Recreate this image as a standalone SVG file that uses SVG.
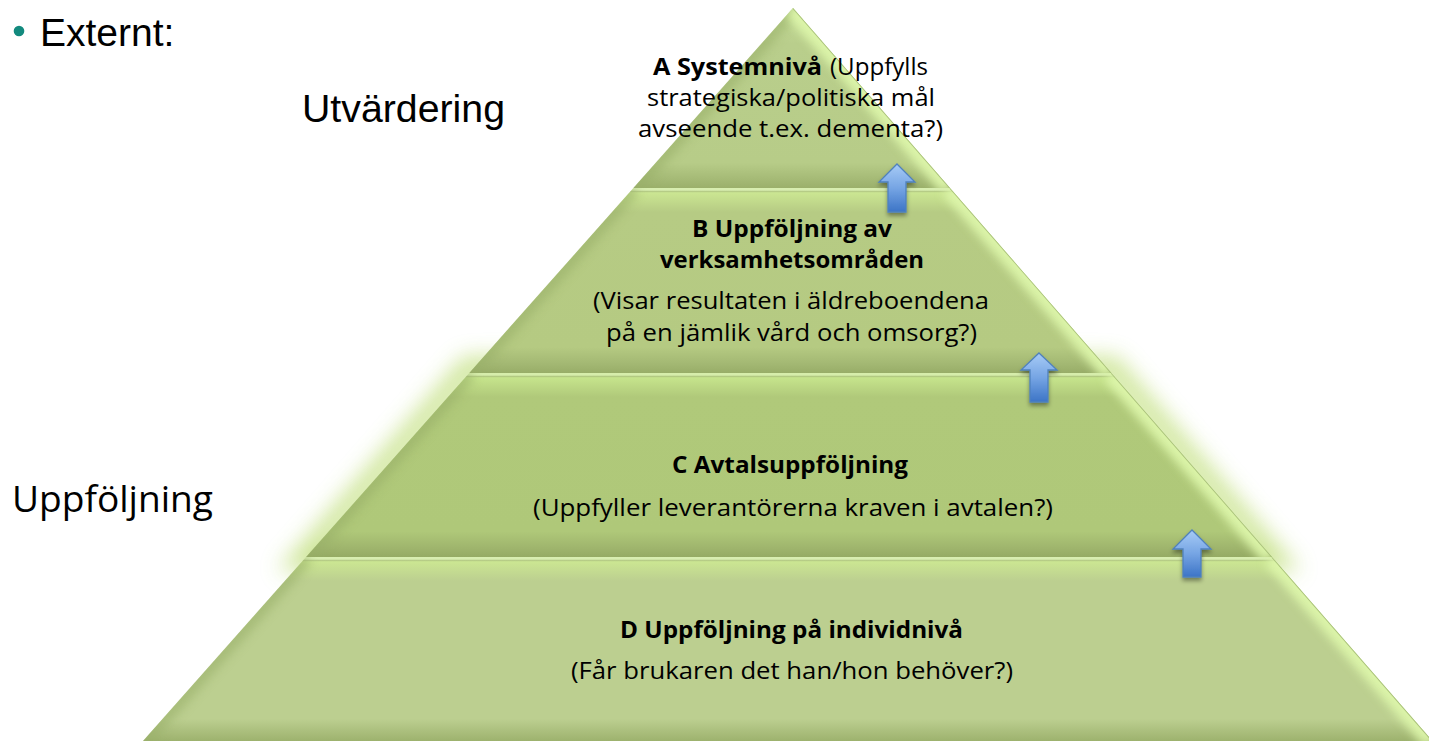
<svg xmlns="http://www.w3.org/2000/svg" width="1429" height="742" viewBox="0 0 1429 742">
<style>
.lbl{font-family:"Liberation Sans",Arial,sans-serif;fill:#000}
.t{font-family:"Open Sans","Liberation Sans",sans-serif;font-size:23px;fill:#000}
.b{font-weight:bold}
.edgeL{stroke:#97ae68;stroke-width:16;opacity:.55;fill:none}
.edgeR{stroke:#ddf6aa;stroke-width:20;opacity:.95;fill:none}
.rim{stroke:#a5bd78;stroke-width:1.5;fill:none}
.arrow{stroke:#4f81bd;stroke-width:1.3;fill:url(#gArrow);filter:url(#shadow)}
</style>
<defs>
<linearGradient id="gA" x1="0" y1="0" x2="0" y2="1">
<stop offset="0" stop-color="#c4dc98"/><stop offset="0.2" stop-color="#b9ce8c"/><stop offset="0.86" stop-color="#b7cc88"/><stop offset="0.95" stop-color="#a5ba76"/><stop offset="1" stop-color="#9bb06b"/>
</linearGradient>
<linearGradient id="gB" x1="0" y1="0" x2="0" y2="1">
<stop offset="0" stop-color="#d8eeb0"/><stop offset="0.012" stop-color="#d8eeb0"/><stop offset="0.018" stop-color="#b3c985"/><stop offset="0.026" stop-color="#cbe692"/><stop offset="0.13" stop-color="#b6cb84"/><stop offset="0.86" stop-color="#b5ca82"/><stop offset="0.95" stop-color="#a3b873"/><stop offset="1" stop-color="#98ad68"/>
</linearGradient>
<linearGradient id="gC" x1="0" y1="0" x2="0" y2="1">
<stop offset="0" stop-color="#d6edab"/><stop offset="0.012" stop-color="#d6edab"/><stop offset="0.018" stop-color="#afc680"/><stop offset="0.026" stop-color="#c6e48c"/><stop offset="0.13" stop-color="#b0c97a"/><stop offset="0.86" stop-color="#afc879"/><stop offset="0.95" stop-color="#9fb56d"/><stop offset="1" stop-color="#95ab64"/>
</linearGradient>
<linearGradient id="gD" x1="0" y1="0" x2="0" y2="1">
<stop offset="0" stop-color="#d8eeb0"/><stop offset="0.012" stop-color="#d8eeb0"/><stop offset="0.018" stop-color="#b3c985"/><stop offset="0.026" stop-color="#cbe692"/><stop offset="0.13" stop-color="#bccf90"/><stop offset="0.88" stop-color="#bccf90"/><stop offset="0.95" stop-color="#aabe7c"/><stop offset="1" stop-color="#9db26e"/>
</linearGradient>
<linearGradient id="gArrow" x1="0" y1="0" x2="0" y2="1">
<stop offset="0" stop-color="#a7cbf6"/><stop offset="0.5" stop-color="#76a5e4"/><stop offset="1" stop-color="#3c74c6"/>
</linearGradient>
<filter id="blur6" x="-20%" y="-20%" width="140%" height="140%"><feGaussianBlur stdDeviation="5"/></filter>
<filter id="glow" x="-30%" y="-30%" width="160%" height="160%"><feGaussianBlur stdDeviation="11"/></filter>
<filter id="shadow" x="-50%" y="-30%" width="200%" height="160%"><feDropShadow dx="0" dy="3" stdDeviation="2" flood-color="#000" flood-opacity="0.4"/></filter>
<clipPath id="cA"><polygon points="793,8 633.4,188 950,188"/></clipPath>
<clipPath id="cB"><polygon points="633.4,188 950,188 1111.4,373 469.3,373"/></clipPath>
<clipPath id="cC"><polygon points="469.3,373 1111.4,373 1272,557 306.1,557"/></clipPath>
<clipPath id="cD"><polygon points="306.1,557 1272,557 1432.5,741 143,741"/></clipPath>
</defs>
<rect width="1429" height="742" fill="#fff"/>

<g id="bullet-externt">
<circle cx="19" cy="31" r="5.3" fill="#138a7e"/>
<text class="lbl" x="40" y="46" font-size="39">Externt:</text>
</g>
<g id="label-utvardering">
<text class="lbl" x="302" y="122" font-size="38" textLength="203" lengthAdjust="spacingAndGlyphs">Utvärdering</text>
</g>
<g id="label-uppfoljning">
<text x="12" y="512" font-family="'Open Sans','Liberation Sans',sans-serif" font-size="37" textLength="201" lengthAdjust="spacingAndGlyphs">Uppföljning</text>
</g>

<g id="glow-c" filter="url(#glow)" opacity="0.9">
<polygon points="469.3,368 1111.4,368 1276,560 302,560" fill="none" stroke="#c7e28a" stroke-width="22"/>
</g>

<g id="layer-d">
<polygon points="306.1,557 1272,557 1432.5,741 143,741" fill="url(#gD)"/>
<g clip-path="url(#cD)">
<line class="edgeL" x1="306.1" y1="557" x2="143" y2="741" filter="url(#blur6)"/>
<line class="edgeR" x1="1272" y1="557" x2="1432.5" y2="741" filter="url(#blur6)"/>
<line class="rim" x1="1272" y1="557" x2="1432.5" y2="741"/>
</g>
<text class="t b" x="620" y="638" textLength="343" lengthAdjust="spacingAndGlyphs">D Uppföljning på individnivå</text>
<text class="t" x="571" y="679" textLength="442" lengthAdjust="spacingAndGlyphs">(Får brukaren det han/hon behöver?)</text>
</g>

<g id="layer-c">
<polygon points="469.3,373 1111.4,373 1272,557 306.1,557" fill="url(#gC)"/>
<g clip-path="url(#cC)">
<line class="edgeL" x1="469.3" y1="373" x2="306.1" y2="557" filter="url(#blur6)"/>
<line class="edgeR" x1="1111.4" y1="373" x2="1272" y2="557" filter="url(#blur6)"/>
<line class="rim" x1="1111.4" y1="373" x2="1272" y2="557"/>
</g>
<text class="t b" x="672" y="473" textLength="236" lengthAdjust="spacingAndGlyphs">C Avtalsuppföljning</text>
<text class="t" x="533" y="516" textLength="520" lengthAdjust="spacingAndGlyphs">(Uppfyller leverantörerna kraven i avtalen?)</text>
</g>

<g id="layer-b">
<polygon points="633.4,188 950,188 1111.4,373 469.3,373" fill="url(#gB)"/>
<g clip-path="url(#cB)">
<line class="edgeL" x1="633.4" y1="188" x2="469.3" y2="373" filter="url(#blur6)"/>
<line class="edgeR" x1="950" y1="188" x2="1111.4" y2="373" filter="url(#blur6)"/>
<line class="rim" x1="950" y1="188" x2="1111.4" y2="373"/>
</g>
<text class="t b" x="692" y="237" textLength="200" lengthAdjust="spacingAndGlyphs">B Uppföljning av</text>
<text class="t b" x="660" y="268" textLength="264" lengthAdjust="spacingAndGlyphs">verksamhetsområden</text>
<text class="t" x="593" y="309" textLength="396" lengthAdjust="spacingAndGlyphs">(Visar resultaten i äldreboendena</text>
<text class="t" x="606" y="341" textLength="371" lengthAdjust="spacingAndGlyphs">på en jämlik vård och omsorg?)</text>
</g>

<g id="layer-a">
<polygon points="793,8 633.4,188 950,188" fill="url(#gA)"/>
<g clip-path="url(#cA)">
<line class="edgeL" x1="793" y1="8" x2="633.4" y2="188" filter="url(#blur6)"/>
<line class="edgeR" x1="793" y1="8" x2="950" y2="188" filter="url(#blur6)"/>
<line class="rim" x1="793" y1="8" x2="950" y2="188"/>
</g>
<text class="t b" x="653" y="75" textLength="169" lengthAdjust="spacingAndGlyphs">A Systemnivå</text>
<text class="t" x="830" y="75" textLength="98" lengthAdjust="spacingAndGlyphs">(Uppfylls</text>
<text class="t" x="647" y="106" textLength="288" lengthAdjust="spacingAndGlyphs">strategiska/politiska mål</text>
<text class="t" x="638" y="137" textLength="305" lengthAdjust="spacingAndGlyphs">avseende t.ex. dementa?)</text>
</g>

<g id="connectors">
<polygon class="arrow" points="897,164 915,182 906,182 906,212 888,212 888,182 879,182"/>
<polygon class="arrow" points="1039,353 1057,370 1048,370 1048,402 1030,402 1030,370 1021,370"/>
<polygon class="arrow" points="1192,530 1211,549 1201,549 1201,577 1183,577 1183,549 1173,549"/>
</g>
</svg>
